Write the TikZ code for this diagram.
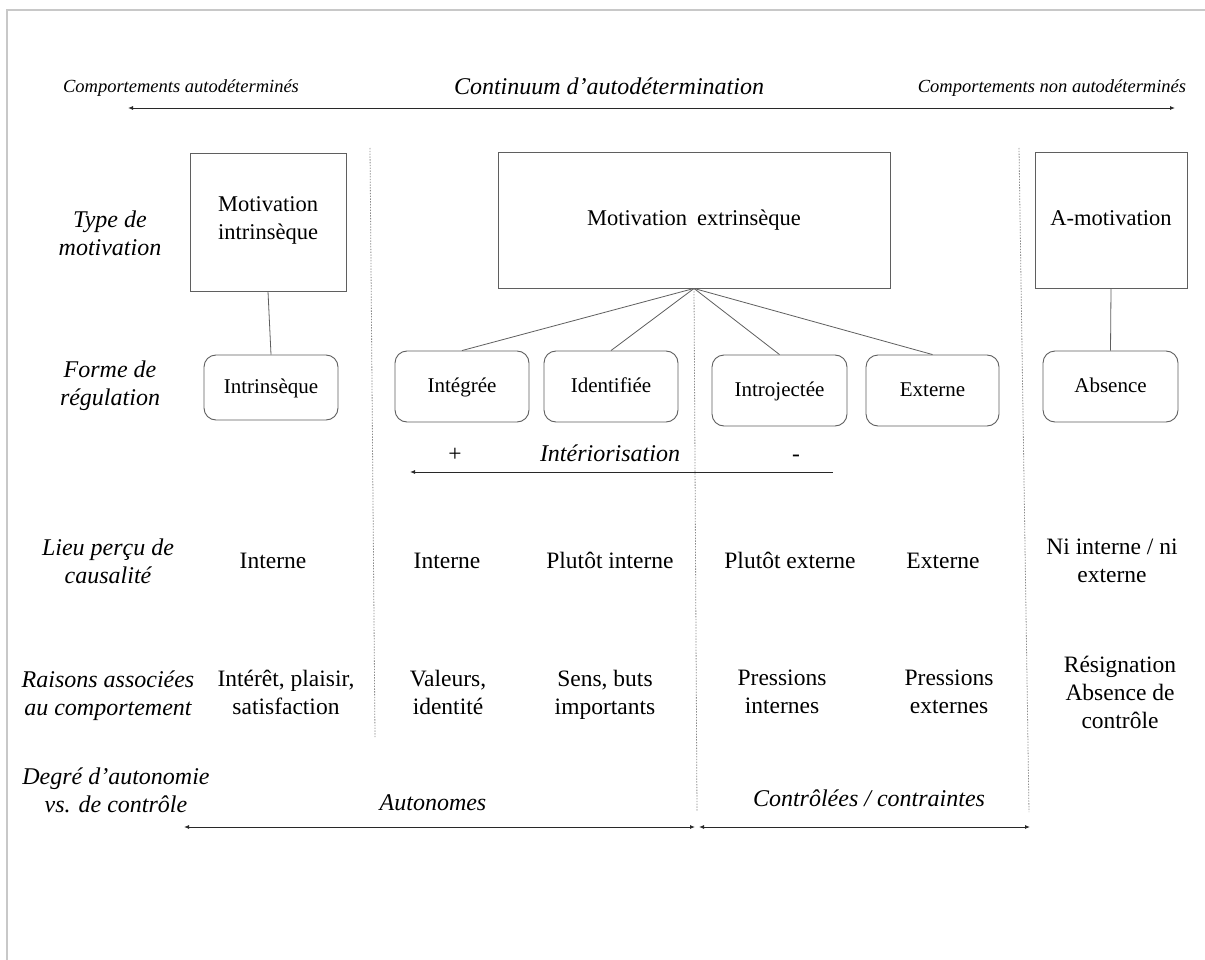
\documentclass[tikz,border=0pt]{standalone}
\usepackage{fontspec}
\setmainfont{Liberation Serif}
\usetikzlibrary{arrows.meta}
\definecolor{boxgray}{RGB}{95,95,95}
\definecolor{sepgray}{RGB}{140,140,140}
\definecolor{framegray}{RGB}{200,200,200}
\definecolor{arrowcol}{RGB}{40,40,40}
\begin{document}
\begin{tikzpicture}[x=1pt,y=-1pt,
  st/.style={execute at begin node=\strut, execute at end node=\strut},
  sqbox/.style={st, draw=boxgray, line width=0.9pt, rectangle, font=\fontsize{22.5}{28}\selectfont, align=center},
  rbox/.style={st, draw=boxgray, line width=0.9pt, rectangle, rounded corners=12pt, font=\fontsize{21}{28}\selectfont, align=center},
  txt/.style={st, yshift=-3pt, inner sep=0pt, font=\fontsize{23.5}{28}\selectfont, align=center},
  lbl/.style={st, yshift=-3pt, inner sep=0pt, font=\fontsize{24}{28}\selectfont\itshape, align=center},
  small/.style={st, yshift=-2pt, inner sep=0pt, font=\fontsize{18.5}{22}\selectfont\itshape},
  sep/.style={draw=sepgray, dash pattern=on 1.4pt off 1.4pt, line width=0.8pt},
  conn/.style={draw=boxgray, line width=0.8pt},
  dbl/.style={arrowcol, line width=0.9pt, {Latex[length=5pt,width=4pt]}-{Latex[length=5pt,width=4pt]}},
  lft/.style={arrowcol, line width=0.9pt, {Latex[length=5pt,width=4pt]}-},
]
\useasboundingbox (0,0) rectangle (1205,960);
\fill[white] (0,0) rectangle (1205,960);
% partial frame
\draw[framegray, line width=2pt] (1205,10) -- (7,10) -- (7,960);

% top row
\node[small] (ca) at (181,86) {Comportements autodéterminés};
\node[lbl] (ct) at (609,86) {Continuum d’autodétermination};
\node[small] (cn) at (1052,86) {Comportements non autodéterminés};
\coordinate (cl) at (128,108);
\coordinate (cr) at (1175,108);
\draw[dbl] (cl) -- (cr);

% separators
\coordinate (s1a) at (370,148); \coordinate (s1b) at (375,737);
\coordinate (s3a) at (1019,148); \coordinate (s3b) at (1029,812);
\coordinate (s2b) at (697,812);

% row labels
\node[lbl] (l1) at (110,234) {Type de\\motivation};
\node[lbl] (l2) at (110,384) {Forme de\\régulation};
\node[lbl] (l3) at (108,562) {Lieu perçu de\\causalité};
\node[lbl] (l4) at (108,694) {Raisons associées\\au comportement};
\node[lbl] (l5) at (116,791) {Degré d’autonomie\\vs. de contrôle};

% motivation boxes
\node[sqbox, minimum width=156pt, minimum height=138pt] (mi) at (268,222) {Motivation\\intrinsèque};
\node[sqbox, minimum width=392pt, minimum height=136pt] (me) at (694,220) {Motivation\;\,extrinsèque};
\node[sqbox, minimum width=152pt, minimum height=136pt] (ma) at (1111,220) {A-motivation};

% regulation boxes
\node[rbox, minimum width=134pt, minimum height=65pt] (ri) at (271,387.5) {Intrinsèque};
\node[rbox, minimum width=134pt, minimum height=71pt] (rg) at (462,386.5) {Intégrée};
\node[rbox, minimum width=134pt, minimum height=71pt] (rd) at (611,386.5) {Identifiée};
\node[rbox, minimum width=135pt, minimum height=71pt] (rj) at (779.5,390.5) {Introjectée};
\node[rbox, minimum width=133pt, minimum height=71pt] (rx) at (932.5,390.5) {Externe};
\node[rbox, minimum width=135pt, minimum height=71pt] (rb) at (1110.5,386.5) {Absence};

\draw[sep] (s1a) -- (s1b);
\draw[sep] (me.south) -- (s2b);
\draw[sep] (s3a) -- (s3b);

\draw[conn] (mi.south) -- (ri.north);
\draw[conn] (me.south) -- (rg.north);
\draw[conn] (me.south) -- (rd.north);
\draw[conn] (me.south) -- (rj.north);
\draw[conn] (me.south) -- (rx.north);
\draw[conn] (ma.south) -- (rb.north);

% interiorisation
\node[txt] (plus) at (455,453) {+};
\node[lbl] (int) at (610,453) {Intériorisation};
\node[txt] (minus) at (796,453) {-};
\coordinate (ia) at (833,472);
\coordinate (ib) at (410,472);
\draw[lft] (ib) -- (ia);

% lieu percu
\node[txt] (p1) at (273,560) {Interne};
\node[txt] (p2) at (447,560) {Interne};
\node[txt] (p3) at (610,560) {Plutôt interne};
\node[txt] (p4) at (790,560) {Plutôt externe};
\node[txt] (p5) at (943,560) {Externe};
\node[txt] (p6) at (1112,562) {Ni interne / ni\\externe};

% raisons
\node[txt] (q1) at (286,694) {Intérêt, plaisir,\\satisfaction};
\node[txt] (q2) at (448,694) {Valeurs,\\identité};
\node[txt] (q3) at (605,694) {Sens, buts\\importants};
\node[txt] (q4) at (782,693) {Pressions\\internes};
\node[txt] (q5) at (949,693) {Pressions\\externes};
\node[txt] (q6) at (1120,694) {Résignation\\Absence de\\contrôle};

% degre
\node[lbl] (d1) at (433,802) {Autonomes};
\node[lbl] (d2) at (869,798) {Contrôlées / contraintes};
\coordinate (da) at (184,827); \coordinate (db) at (695,827);
\coordinate (dc) at (699,827); \coordinate (dd) at (1030,827);
\draw[dbl] (da) -- (db);
\draw[dbl] (dc) -- (dd);
\end{tikzpicture}
\end{document}
